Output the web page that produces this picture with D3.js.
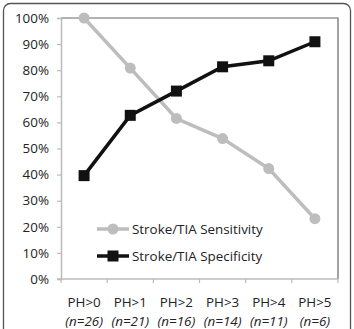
<!DOCTYPE html>
<html>
<head>
<meta charset="utf-8">
<script src="https://cdn.jsdelivr.net/npm/d3@7"></script>
<style>
  body { margin: 0; background: #fff; }
  svg text { font-family: "Open Sans", "Noto Sans", sans-serif; fill: #222; }
</style>
</head>
<body>
<div id="chart"></div>
<script>
// Chart data
const categories = ['PH>0', 'PH>1', 'PH>2', 'PH>3', 'PH>4', 'PH>5'];
const counts = ['(n=26)', '(n=21)', '(n=16)', '(n=14)', '(n=11)', '(n=6)'];
const sensitivity = [100, 80.8, 61.5, 53.8, 42.3, 23.1];
const specificity = [39.6, 62.7, 72.0, 81.3, 83.6, 90.9];
const yTicks = [0, 10, 20, 30, 40, 50, 60, 70, 80, 90, 100];
const seriesNames = ['Stroke/TIA Sensitivity', 'Stroke/TIA Specificity'];

const W = 354, H = 329;
const margin = { top: 18, right: 16, bottom: 50, left: 61 };
const width = W - margin.left - margin.right;
const height = H - margin.top - margin.bottom;
const fs = 13.4;

const root = d3.select('#chart').append('svg')
    .attr('width', W)
    .attr('height', H);

// Outer rounded frame
root.append('rect')
    .attr('x', 3.5).attr('y', 3.5)
    .attr('width', W - 7).attr('height', H + 10)
    .attr('rx', 7)
    .attr('fill', 'none')
    .attr('stroke', '#555')
    .attr('stroke-width', 1.3);

const svg = root.append('g')
    .attr('transform', `translate(${margin.left},${margin.top})`);

const x = d3.scaleBand().domain(categories).range([0, width]);
const y = d3.scaleLinear().domain([0, 100]).range([height, 0]);

// Plot area border (top & right)
svg.append('path')
    .attr('d', `M0,0H${width}V${height}`)
    .attr('fill', 'none')
    .attr('stroke', '#666')
    .attr('stroke-width', 1.2);

// Y axis
const yAxis = svg.append('g')
    .call(d3.axisLeft(y).tickValues(yTicks).tickSize(4).tickPadding(8).tickFormat(d => d + '%'));
yAxis.select('.domain').attr('stroke', '#bbb').attr('stroke-width', 1.5);
yAxis.selectAll('.tick line').attr('stroke', '#bbb').attr('stroke-width', 1.2);
yAxis.selectAll('.tick text').attr('font-size', fs).attr('fill', '#222');

// X axis with ticks at category boundaries
const xg = svg.append('g').attr('transform', `translate(0,${height})`);
xg.append('line')
    .attr('x1', -4).attr('x2', width)
    .attr('stroke', '#bbb').attr('stroke-width', 1.5);
xg.selectAll('.bound')
    .data(categories.concat(['end']))
    .join('line')
    .attr('x1', (d, i) => i * x.bandwidth())
    .attr('x2', (d, i) => i * x.bandwidth())
    .attr('y1', 0).attr('y2', 4)
    .attr('stroke', '#bbb').attr('stroke-width', 1.2);
xg.selectAll('.cat')
    .data(categories)
    .join('text')
    .attr('x', d => x(d) + x.bandwidth() / 2)
    .attr('y', 28)
    .attr('text-anchor', 'middle')
    .attr('font-size', fs)
    .text(d => d);
xg.selectAll('.cnt')
    .data(counts)
    .join('text')
    .attr('x', (d, i) => x(categories[i]) + x.bandwidth() / 2)
    .attr('y', 47)
    .attr('text-anchor', 'middle')
    .attr('font-size', fs)
    .attr('font-style', 'italic')
    .text(d => d);

const cx = d => x(d) + x.bandwidth() / 2;
const line = d3.line()
    .x((d, i) => cx(categories[i]))
    .y(d => y(d));

// Sensitivity (gray, circles)
svg.append('path')
    .datum(sensitivity)
    .attr('d', line)
    .attr('fill', 'none')
    .attr('stroke', '#bdbdbd')
    .attr('stroke-width', 3.5);
svg.selectAll('.sens')
    .data(sensitivity)
    .join('circle')
    .attr('cx', (d, i) => cx(categories[i]))
    .attr('cy', d => y(d))
    .attr('r', 5.5)
    .attr('fill', '#bdbdbd');

// Specificity (black, squares)
svg.append('path')
    .datum(specificity)
    .attr('d', line)
    .attr('fill', 'none')
    .attr('stroke', '#111')
    .attr('stroke-width', 3.5);
svg.selectAll('.spec')
    .data(specificity)
    .join('rect')
    .attr('x', (d, i) => cx(categories[i]) - 5.5)
    .attr('y', d => y(d) - 5.5)
    .attr('width', 11).attr('height', 11)
    .attr('fill', '#111');

// Legend
const legend = svg.append('g').attr('transform', 'translate(36,211)');
seriesNames.forEach((name, i) => {
    const g = legend.append('g').attr('transform', `translate(0,${i * 27})`);
    const color = i === 0 ? '#bdbdbd' : '#111';
    g.append('line')
        .attr('x1', 0).attr('x2', 32)
        .attr('stroke', color).attr('stroke-width', 3.5);
    if (i === 0) {
        g.append('circle').attr('cx', 16).attr('r', 5.5).attr('fill', color);
    } else {
        g.append('rect').attr('x', 10.5).attr('y', -5.5).attr('width', 11).attr('height', 11).attr('fill', color);
    }
    g.append('text')
        .attr('x', 35)
        .attr('dy', '0.35em')
        .attr('font-size', fs)
        .text(name);
});
</script>
</body>
</html>
